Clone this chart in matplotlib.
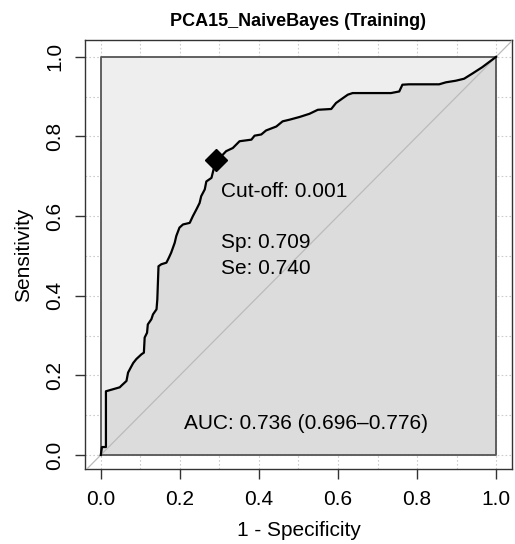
import matplotlib
matplotlib.use("Agg")
import matplotlib.pyplot as plt
import numpy as np

plt.rcParams['font.family'] = ['Liberation Sans', 'DejaVu Sans']

# ROC curve (1 - specificity, sensitivity)
fpr = [0.0, 0.003, 0.013, 0.013, 0.048, 0.052, 0.065, 0.069, 0.076, 0.082,
       0.090, 0.103, 0.109, 0.111, 0.117, 0.119, 0.128, 0.132, 0.141, 0.143,
       0.146, 0.153, 0.166, 0.172, 0.178, 0.187, 0.191, 0.199, 0.208, 0.225,
       0.233, 0.242, 0.250, 0.254, 0.263, 0.267, 0.280, 0.291, 0.300, 0.317,
       0.334, 0.351, 0.381, 0.389, 0.406, 0.418, 0.444, 0.460, 0.477, 0.503,
       0.528, 0.549, 0.583, 0.595, 0.612, 0.625, 0.637, 0.734, 0.755, 0.763,
       0.780, 0.856, 0.873, 0.898, 0.919, 0.940, 0.965, 1.0]
tpr = [0.0, 0.02, 0.02, 0.16, 0.17, 0.174, 0.186, 0.207, 0.22, 0.231,
       0.241, 0.253, 0.257, 0.295, 0.307, 0.328, 0.341, 0.353, 0.366, 0.391,
       0.474, 0.479, 0.483, 0.495, 0.508, 0.533, 0.55, 0.571, 0.579, 0.583,
       0.6, 0.617, 0.633, 0.65, 0.667, 0.687, 0.696, 0.74, 0.745, 0.763,
       0.771, 0.788, 0.792, 0.802, 0.805, 0.815, 0.825, 0.838, 0.842, 0.849,
       0.857, 0.867, 0.869, 0.884, 0.896, 0.905, 0.909, 0.909, 0.913, 0.93,
       0.931, 0.931, 0.936, 0.94, 0.945, 0.958, 0.974, 1.0]

best_sp = 0.709
best_se = 0.740
cutoff = 0.001
auc = 0.736
auc_ci = (0.696, 0.776)
title = "PCA15_NaiveBayes (Training)"

fig = plt.figure(figsize=(5.15, 5.44), dpi=100)
ax = fig.add_axes([0.165, 0.138, 0.829, 0.789])

# grid
for g in np.arange(0, 1.01, 0.1):
    ax.axvline(g, color='#cccccc', lw=0.8, ls=(0, (1.5, 2)), zorder=0)
    ax.axhline(g, color='#cccccc', lw=0.8, ls=(0, (1.5, 2)), zorder=0)

# inner square and area under the curve
ax.fill([0, 1, 1, 0], [0, 0, 1, 1], color='#eeeeee', zorder=1, lw=0)
ax.fill_between(fpr, tpr, 0, color='#dcdcdc', zorder=2, lw=0)
ax.axline((0, 0), (1, 1), color='#bbbbbb', lw=0.9, zorder=3)
ax.plot([0, 1, 1, 0, 0], [0, 0, 1, 1, 0], color='#555555', lw=1.3, zorder=4)

ax.plot(fpr, tpr, color='black', lw=1.6, zorder=5)
ax.plot([1 - best_sp], [best_se], marker='D', color='black', ms=11.5, zorder=6)

fs = 15
ax.text(0.305, 0.662, "Cut-off: %.3f" % cutoff, fontsize=fs, va='center', zorder=7)
ax.text(0.305, 0.534, "Sp: %.3f" % best_sp, fontsize=fs, va='center', zorder=7)
ax.text(0.305, 0.469, "Se: %.3f" % best_se, fontsize=fs, va='center', zorder=7)
ax.text(0.52, 0.08, "AUC: %.3f (%.3f\u2013%.3f)" % (auc, auc_ci[0], auc_ci[1]),
        fontsize=fs, ha='center', va='center', zorder=7)

ax.set_xlim(-0.04, 1.04)
ax.set_ylim(-0.035, 1.043)
ticks = [0, 0.2, 0.4, 0.6, 0.8, 1.0]
ax.set_xticks(ticks)
ax.set_yticks(ticks)
ax.set_xticklabels(["%.1f" % t for t in ticks], fontsize=fs)
ax.set_yticklabels(["%.1f" % t for t in ticks], fontsize=fs, rotation=90, va='center')
ax.tick_params(length=7, width=1, color='#333333', pad=8)
for s in ax.spines.values():
    s.set_color('#333333')
    s.set_linewidth(1)

ax.set_xlabel("1 - Specificity", fontsize=fs, labelpad=9)
ax.set_ylabel("Sensitivity", fontsize=fs, labelpad=9)
ax.set_title(title, fontsize=13, fontweight='bold', pad=10)

fig.savefig("out.png", dpi=100)
